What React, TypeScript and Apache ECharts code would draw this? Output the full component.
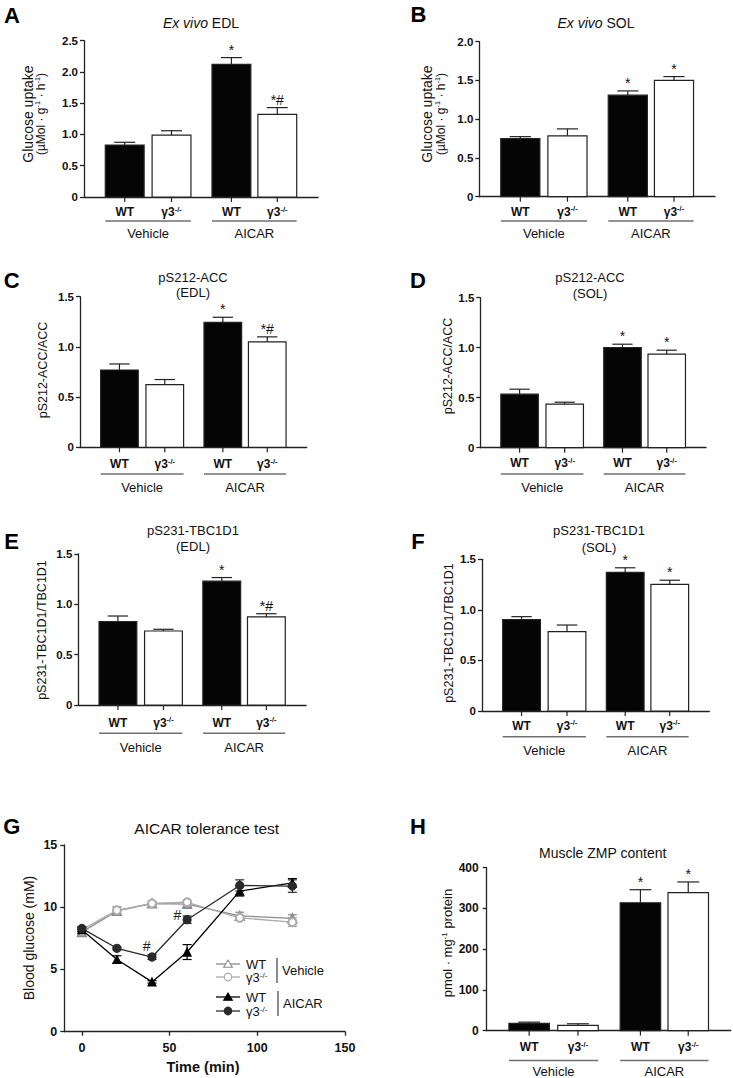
import React, { useEffect, useRef } from 'react';
import * as echarts from 'echarts';

const FONT = '"Liberation Sans", Arial, Helvetica, sans-serif';
const INK = '#111111';
const AXIS = '#222222';

// ---------------- data ----------------
const GROUPS = ['Vehicle', 'AICAR'];
const GENOTYPE_BASE = ['WT', 'γ3'];
const GENOTYPE_SUP = ['', '-/-'];
const CATEGORY_GENOTYPE = [0, 1, 0, 1];

const EDL_UPTAKE = [0.83, 0.99, 2.12, 1.32];
const EDL_UPTAKE_SEM = [0.045, 0.07, 0.11, 0.11];
const EDL_UPTAKE_SIG = ['', '', '*', '*#'];

const SOL_UPTAKE = [0.75, 0.785, 1.31, 1.5];
const SOL_UPTAKE_SEM = [0.025, 0.09, 0.055, 0.05];
const SOL_UPTAKE_SIG = ['', '', '*', '*'];

const EDL_ACC = [0.77, 0.625, 1.245, 1.05];
const EDL_ACC_SEM = [0.06, 0.05, 0.05, 0.05];
const EDL_ACC_SIG = ['', '', '*', '*#'];

const SOL_ACC = [0.535, 0.435, 1.0, 0.935];
const SOL_ACC_SEM = [0.05, 0.02, 0.035, 0.04];
const SOL_ACC_SIG = ['', '', '*', '*'];

const EDL_TBC = [0.828, 0.735, 1.23, 0.875];
const EDL_TBC_SEM = [0.056, 0.017, 0.036, 0.032];
const EDL_TBC_SIG = ['', '', '*', '*#'];

const SOL_TBC = [0.903, 0.785, 1.37, 1.253];
const SOL_TBC_SEM = [0.03, 0.065, 0.046, 0.04];
const SOL_TBC_SIG = ['', '', '*', '*'];

const ZMP = [18, 13, 314, 339];
const ZMP_SEM = [3, 4, 32, 26];
const ZMP_SIG = ['', '', '*', '*'];

const TIME = [0, 20, 40, 60, 90, 120];
const TIME_TICKS = [0, 50, 100, 150];
const VEH_WT = [8.0, 9.7, 10.3, 10.25, 9.3, 9.1];
const VEH_WT_SEM = [0.15, 0.35, 0.15, 0.15, 0.3, 0.3];
const VEH_KO = [8.2, 9.75, 10.3, 10.4, 9.15, 8.8];
const VEH_KO_SEM = [0.15, 0.3, 0.15, 0.15, 0.2, 0.35];
const AIC_WT = [8.2, 5.8, 4.0, 6.4, 11.3, 11.95];
const AIC_WT_SEM = [0.15, 0.3, 0.1, 0.6, 0.4, 0.35];
const AIC_KO = [8.3, 6.7, 6.0, 9.0, 11.75, 11.7];
const AIC_KO_SEM = [0.15, 0.1, 0.2, 0.3, 0.45, 0.5];
const HASH_T = [37, 54.5];
const HASH_Y = [6.85, 9.35];

// ---------------- layout ----------------
const CAT_X = [0.87, 1.87, 3.15, 4.13];
const BAR_W = 0.83;
const X_MAX = 5;

type Panel = {
  mean: number[]; sem: number[]; sig: string[];
  yMax: number; yStep: number; dec: number;
  box: number[]; under: number[]; margin: number;
};

const BAR_PANELS: Panel[] = [
  { mean: EDL_UPTAKE, sem: EDL_UPTAKE_SEM, sig: EDL_UPTAKE_SIG, yMax: 2.5, yStep: 0.5, dec: 1, box: [84, 40.7, 234, 156.3], under: [15, 24, 36], margin: 6 },
  { mean: SOL_UPTAKE, sem: SOL_UPTAKE_SEM, sig: SOL_UPTAKE_SIG, yMax: 2.0, yStep: 0.5, dec: 1, box: [479.3, 41.7, 235.7, 155], under: [15, 24.3, 36.6], margin: 6 },
  { mean: EDL_ACC, sem: EDL_ACC_SEM, sig: EDL_ACC_SIG, yMax: 1.5, yStep: 0.5, dec: 1, box: [80, 296.7, 226.7, 150.6], under: [16.7, 26.7, 39.7], margin: 6 },
  { mean: SOL_ACC, sem: SOL_ACC_SEM, sig: SOL_ACC_SIG, yMax: 1.5, yStep: 0.5, dec: 1, box: [480.3, 297.7, 225.7, 150], under: [15.6, 26.3, 39.6], margin: 6 },
  { mean: EDL_TBC, sem: EDL_TBC_SEM, sig: EDL_TBC_SIG, yMax: 1.5, yStep: 0.5, dec: 1, box: [78.3, 554, 227.7, 151], under: [17.7, 28.3, 42.3], margin: 6 },
  { mean: SOL_TBC, sem: SOL_TBC_SEM, sig: SOL_TBC_SIG, yMax: 1.5, yStep: 0.5, dec: 1, box: [482, 559.3, 227.3, 151.7], under: [14.7, 25.7, 39.7], margin: 6 },
  { mean: ZMP, sem: ZMP_SEM, sig: ZMP_SIG, yMax: 400, yStep: 100, dec: 0, box: [486.7, 867.7, 244, 163], under: [16.3, 29.8, 41], margin: 8 },
];

const G_BOX = [64.3, 845, 280.7, 186.7];

const catRich = {
  b: { fontSize: 12, fontWeight: 'bold', fontFamily: FONT, fill: INK, lineHeight: 14 },
  s: { fontSize: 7.5, fontWeight: 'bold', fontFamily: FONT, fill: INK, lineHeight: 14, verticalAlign: 'top' },
};

function barRender(p: Panel) {
  return (params: any, api: any) => {
    const i = params.dataIndex;
    const x = api.value(0);
    const m = api.value(1);
    const s = api.value(2);
    const tl = api.coord([x - BAR_W / 2, m]);
    const br = api.coord([x + BAR_W / 2, 0]);
    const top = api.coord([x, m + s]);
    const cx = (tl[0] + br[0]) / 2;
    const base = br[1];
    const bw = br[0] - tl[0];
    const cap = bw * 0.27;
    const kind = CATEGORY_GENOTYPE[i];
    const stroke = { stroke: AXIS, lineWidth: 1.2 };
    const label = GENOTYPE_SUP[kind]
      ? `{b|${GENOTYPE_BASE[kind]}}{s|${GENOTYPE_SUP[kind]}}`
      : `{b|${GENOTYPE_BASE[kind]}}`;
    const children: any[] = [
      { type: 'line', shape: { x1: cx, y1: tl[1], x2: cx, y2: top[1] }, style: stroke },
      { type: 'line', shape: { x1: cx - cap, y1: top[1], x2: cx + cap, y2: top[1] }, style: stroke },
      { type: 'rect', shape: { x: tl[0], y: tl[1], width: bw, height: base - tl[1] }, style: { fill: kind === 0 ? '#050505' : '#ffffff', stroke: AXIS, lineWidth: 1.2 } },
      { type: 'line', shape: { x1: cx, y1: base, x2: cx, y2: base + 5 }, style: stroke },
      { type: 'text', x: cx, y: base + p.under[0], style: { text: label, rich: catRich, align: 'center', verticalAlign: 'middle', fill: INK, fontFamily: FONT } },
    ];
    if (p.sig[i]) {
      children.push({ type: 'text', x: cx, y: top[1] - 1, style: { text: p.sig[i], fontSize: 14, fontFamily: FONT, fill: INK, align: 'center', verticalAlign: 'bottom' } });
    }
    return { type: 'group', children };
  };
}

function groupRender(p: Panel) {
  return (params: any, api: any) => {
    const i = params.dataIndex;
    const a = api.coord([api.value(0), 0]);
    const b = api.coord([api.value(2), 0]);
    const base = a[1];
    return {
      type: 'group',
      children: [
        { type: 'line', shape: { x1: a[0], y1: base + p.under[1], x2: b[0], y2: base + p.under[1] }, style: { stroke: '#707070', lineWidth: 1.5 } },
        { type: 'text', x: (a[0] + b[0]) / 2, y: base + p.under[2], style: { text: GROUPS[i], fontSize: 13, fontFamily: FONT, fill: INK, align: 'center', verticalAlign: 'middle' } },
      ],
    };
  };
}

function errRender(color: string) {
  return (params: any, api: any) => {
    const x = api.value(0);
    const m = api.value(1);
    const s = api.value(2);
    const lo = api.coord([x, m - s]);
    const hi = api.coord([x, m + s]);
    const c = 4.5;
    const st = { stroke: color, lineWidth: 1.2 };
    return {
      type: 'group',
      children: [
        { type: 'line', shape: { x1: lo[0], y1: lo[1], x2: hi[0], y2: hi[1] }, style: st },
        { type: 'line', shape: { x1: hi[0] - c, y1: hi[1], x2: hi[0] + c, y2: hi[1] }, style: st },
        { type: 'line', shape: { x1: lo[0] - c, y1: lo[1], x2: lo[0] + c, y2: lo[1] }, style: st },
      ],
    };
  };
}

function hashRender(params: any, api: any) {
  const p = api.coord([api.value(0), api.value(1)]);
  return { type: 'text', x: p[0], y: p[1], style: { text: '#', fontSize: 14, fontFamily: FONT, fill: '#222', align: 'center', verticalAlign: 'middle' } };
}

function txt(x: number, y: number, text: string, size: number, extra: any = {}, rotation = 0): any {
  return {
    type: 'text', x, y, rotation, silent: true,
    style: { text, fontSize: size, fontFamily: FONT, fill: INK, align: 'center', verticalAlign: 'middle', ...extra },
  };
}

const supRich = (size: number, weight = 'normal', lh = size * 1.15) => ({
  s: { fontSize: size * 0.62, fontFamily: FONT, fontWeight: weight, fill: INK, verticalAlign: 'top', lineHeight: lh },
  n: { fontSize: size, fontFamily: FONT, fontWeight: weight, fill: INK, lineHeight: lh },
});

function buildOption(): any {
  const grid: any[] = [];
  const xAxis: any[] = [];
  const yAxis: any[] = [];
  const series: any[] = [];
  const axisLine = { show: true, onZero: false, lineStyle: { color: AXIS, width: 1.3 } };

  BAR_PANELS.forEach((p, k) => {
    grid.push({ left: p.box[0], top: p.box[1], width: p.box[2], height: p.box[3], containLabel: false, outerBoundsMode: 'none' });
    xAxis.push({ gridIndex: k, type: 'value', min: 0, max: X_MAX, axisLine, axisTick: { show: false }, axisLabel: { show: false }, splitLine: { show: false } });
    yAxis.push({
      gridIndex: k, type: 'value', min: 0, max: p.yMax, interval: p.yStep,
      axisLine, axisTick: { show: true, length: 4, lineStyle: { color: AXIS, width: 1.3 } },
      axisLabel: { margin: p.margin, color: INK, fontFamily: FONT, fontWeight: 'bold', fontSize: p.dec ? 11.5 : 12, showMinLabel: true, showMaxLabel: true, formatter: (v: number) => (v === 0 ? '0' : v.toFixed(p.dec)) },
      splitLine: { show: false },
    });
    series.push({ type: 'custom', xAxisIndex: k, yAxisIndex: k, clip: false, z: 3, renderItem: barRender(p), encode: { x: 0, y: 1 }, data: CAT_X.map((x, i) => [x, p.mean[i], p.sem[i]]) });
    series.push({ type: 'custom', xAxisIndex: k, yAxisIndex: k, clip: false, z: 3, renderItem: groupRender(p), encode: { x: 0, y: 1 }, data: [[CAT_X[0] - BAR_W / 2, 0, CAT_X[1] + BAR_W / 2], [CAT_X[2] - BAR_W / 2, 0, CAT_X[3] + BAR_W / 2]] });
  });

  // Panel G
  const g = BAR_PANELS.length;
  grid.push({ left: G_BOX[0], top: G_BOX[1], width: G_BOX[2], height: G_BOX[3], containLabel: false, outerBoundsMode: 'none' });
  xAxis.push({
    gridIndex: g, type: 'value', min: -10, max: 150, axisLine,
    axisTick: { show: true, length: 4, customValues: TIME_TICKS, lineStyle: { color: AXIS, width: 1.3 } },
    axisLabel: { customValues: TIME_TICKS, margin: 10, color: INK, fontFamily: FONT, fontWeight: 'bold', fontSize: 12.5 },
    splitLine: { show: false },
  });
  yAxis.push({
    gridIndex: g, type: 'value', min: 0, max: 15, interval: 5, axisLine,
    axisTick: { show: true, length: 4, lineStyle: { color: AXIS, width: 1.3 } },
    axisLabel: { margin: 7, color: INK, fontFamily: FONT, fontWeight: 'bold', fontSize: 12.5, showMinLabel: true, showMaxLabel: true },
    splitLine: { show: false },
  });
  const lines = [
    { m: VEH_WT, s: VEH_WT_SEM, color: '#8c8c8c', symbol: 'emptyTriangle', z: 4 },
    { m: VEH_KO, s: VEH_KO_SEM, color: '#ababab', symbol: 'emptyCircle', z: 4 },
    { m: AIC_WT, s: AIC_WT_SEM, color: '#000000', symbol: 'triangle', z: 6 },
    { m: AIC_KO, s: AIC_KO_SEM, color: '#2a2a2a', symbol: 'circle', z: 6 },
  ];
  lines.forEach((l) => {
    series.push({ type: 'custom', xAxisIndex: g, yAxisIndex: g, z: l.z, clip: false, renderItem: errRender(l.color), encode: { x: 0, y: 1 }, data: TIME.map((t, i) => [t, l.m[i], l.s[i]]) });
    series.push({
      type: 'line', xAxisIndex: g, yAxisIndex: g, z: l.z + 1, data: TIME.map((t, i) => [t, l.m[i]]),
      symbol: l.symbol, symbolSize: 8, showSymbol: true,
      lineStyle: { color: l.color, width: 1.3 }, itemStyle: { color: l.color, borderColor: l.color, borderWidth: 1.2 },
    });
  });
  series.push({ type: 'custom', xAxisIndex: g, yAxisIndex: g, z: 8, clip: false, renderItem: hashRender, encode: { x: 0, y: 1 }, data: HASH_T.map((t, i) => [t, HASH_Y[i]]) });

  // ---- graphic: panel letters, titles, axis titles, legend ----
  const el: any[] = [];
  const letter = (x: number, y: number, t: string) => txt(x, y, t, 22, { fontWeight: 'bold', fill: '#000' });
  el.push(letter(12, 15, 'A'), letter(418.5, 14, 'B'), letter(11.7, 280.5, 'C'), letter(418, 280.5, 'D'),
    letter(11.7, 541, 'E'), letter(418, 541, 'F'), letter(11.7, 826.5, 'G'), letter(418, 826, 'H'));

  const italicRich = { i: { fontStyle: 'italic', fontSize: 14, fontFamily: FONT, fill: INK } };
  el.push(txt(201, 23, '{i|Ex vivo} EDL', 14, { rich: italicRich }));
  el.push(txt(596, 23, '{i|Ex vivo} SOL', 14, { rich: italicRich }));
  el.push(txt(193, 277.3, 'pS212-ACC', 13), txt(193, 292.7, '(EDL)', 13));
  el.push(txt(590, 277.3, 'pS212-ACC', 13), txt(590, 293, '(SOL)', 13));
  el.push(txt(193, 530, 'pS231-TBC1D1', 13), txt(193, 546.7, '(EDL)', 13));
  el.push(txt(599, 530, 'pS231-TBC1D1', 13), txt(599, 547, '(SOL)', 13));
  el.push(txt(206.7, 828.3, 'AICAR tolerance test', 15.5));
  el.push(txt(602.7, 853.3, 'Muscle ZMP content', 14));

  const R = Math.PI / 2;
  el.push(txt(27.5, 114, 'Glucose uptake', 14, {}, R));
  el.push(txt(41, 114, '{n|(µMol · g}{s|-1}{n| · h}{s|-1}{n|)}', 12, { rich: supRich(12) }, R));
  el.push(txt(427, 114, 'Glucose uptake', 14, {}, R));
  el.push(txt(441, 114, '{n|(µMol · g}{s|-1}{n| · h}{s|-1}{n|)}', 12, { rich: supRich(12) }, R));
  el.push(txt(43, 370, 'pS212-ACC/ACC', 12.5, {}, R));
  el.push(txt(448, 366, 'pS212-ACC/ACC', 12.5, {}, R));
  el.push(txt(41.7, 630, 'pS231-TBC1D1/TBC1D1', 12.5, {}, R));
  el.push(txt(449, 633, 'pS231-TBC1D1/TBC1D1', 12.5, {}, R));
  el.push(txt(28.5, 938, 'Blood glucose (mM)', 14, {}, R));
  el.push(txt(447.7, 943, '{n|pmol · mg}{s|-1}{n| protein}', 13, { rich: supRich(13) }, R));
  el.push(txt(203, 1067, 'Time (min)', 14.5, { fontWeight: 'bold' }));

  // legend of panel G
  const rows = [
    { y: 964, color: '#8c8c8c', tri: true, filled: false, k: 0 },
    { y: 977, color: '#ababab', tri: false, filled: false, k: 1 },
    { y: 997, color: '#000000', tri: true, filled: true, k: 0 },
    { y: 1011, color: '#2a2a2a', tri: false, filled: true, k: 1 },
  ];
  rows.forEach((r) => {
    el.push({ type: 'line', silent: true, shape: { x1: 216, y1: r.y, x2: 240, y2: r.y }, style: { stroke: r.color, lineWidth: 1.3 } });
    const fill = r.filled ? r.color : '#ffffff';
    if (r.tri) {
      el.push({ type: 'polygon', silent: true, shape: { points: [[228, r.y - 4], [232.3, r.y + 3.2], [223.7, r.y + 3.2]] }, style: { fill, stroke: r.color, lineWidth: 1.1 } });
    } else {
      el.push({ type: 'circle', silent: true, shape: { cx: 228, cy: r.y, r: 3.8 }, style: { fill, stroke: r.color, lineWidth: 1.1 } });
    }
    const label = GENOTYPE_SUP[r.k] ? `{n|${GENOTYPE_BASE[r.k]}}{s|${GENOTYPE_SUP[r.k]}}` : `{n|${GENOTYPE_BASE[r.k]}}`;
    el.push(txt(246, r.y, label, 13, { rich: supRich(13, 'normal', 12), align: 'left' }));
  });
  el.push({ type: 'line', silent: true, shape: { x1: 277, y1: 958, x2: 277, y2: 983 }, style: { stroke: '#666', lineWidth: 1.5 } });
  el.push({ type: 'line', silent: true, shape: { x1: 278, y1: 991, x2: 278, y2: 1016 }, style: { stroke: '#666', lineWidth: 1.5 } });
  el.push(txt(282, 970, GROUPS[0], 13, { align: 'left' }));
  el.push(txt(283, 1003.5, GROUPS[1], 13, { align: 'left' }));

  return {
    animation: false,
    backgroundColor: '#ffffff',
    textStyle: { fontFamily: FONT },
    grid, xAxis, yAxis, series,
    graphic: { elements: el },
  };
}

export default function App() {
  const ref = useRef<HTMLDivElement>(null);
  useEffect(() => {
    if (!ref.current) return;
    const chart = echarts.init(ref.current, undefined, { renderer: 'svg' });
    chart.setOption(buildOption());
    return () => chart.dispose();
  }, []);
  return <div ref={ref} style={{ position: 'fixed', left: 0, top: 0, width: 733, height: 1078, background: '#fff' }} />;
}
